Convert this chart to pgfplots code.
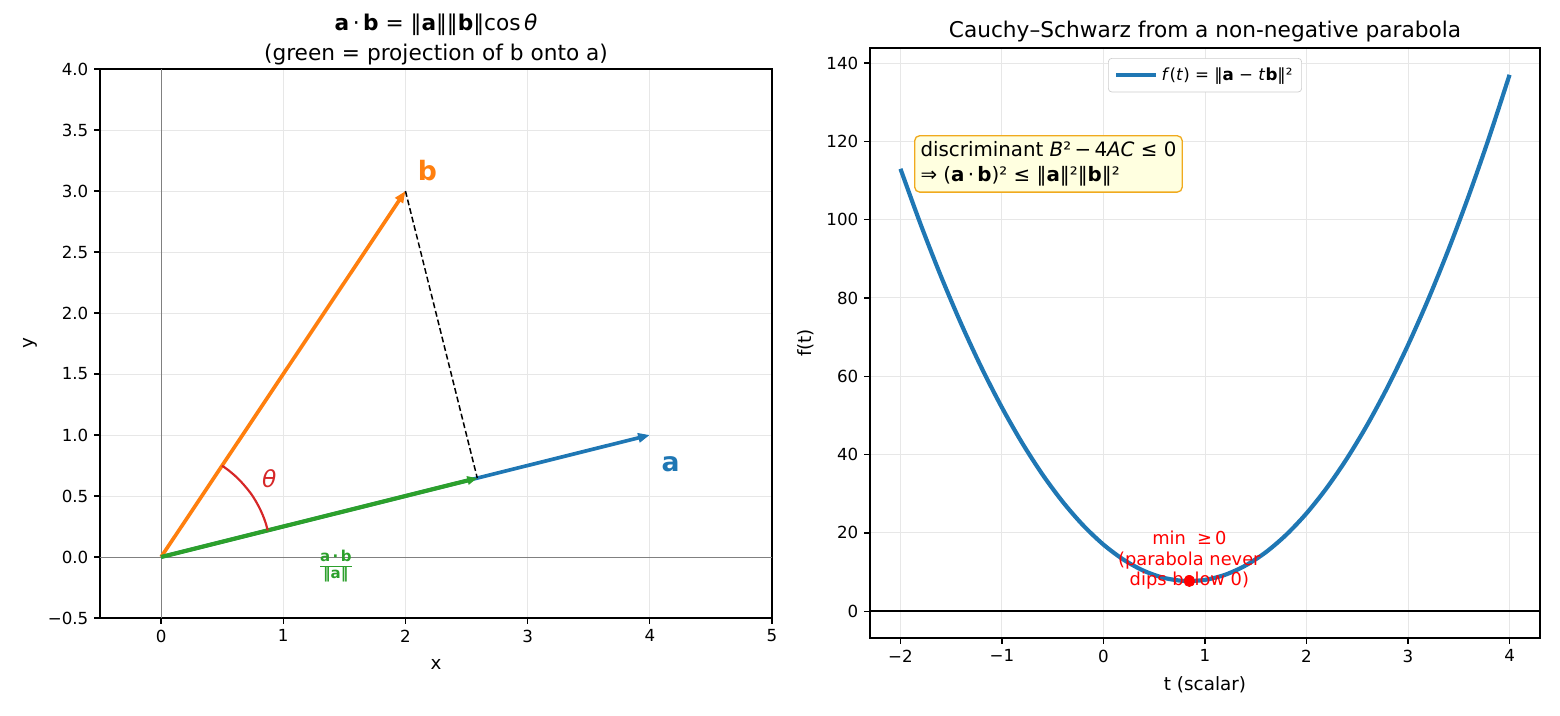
\documentclass[border=0pt]{standalone}
\usepackage{fontspec}
\setmainfont{DejaVu Sans}
\usepackage{pgfplots}
\pgfplotsset{compat=1.18}
\usetikzlibrary{arrows.meta}
\definecolor{C0}{RGB}{31,119,180}
\definecolor{C1}{RGB}{255,127,14}
\definecolor{C2}{RGB}{44,160,44}
\definecolor{C3}{RGB}{214,39,40}
\definecolor{gridc}{RGB}{231,231,231}
\definecolor{boxedge}{RGB}{240,170,30}
\definecolor{boxfill}{RGB}{255,255,224}
\definecolor{legc}{RGB}{204,204,204}
\pgfplotsset{mpl/.style={
  scale only axis,
  axis line style={line width=0.8pt},
  tick align=outside,
  major tick length=3.5pt,
  every tick/.style={black, line width=0.8pt},
  xtick pos=lower, ytick pos=left,
  grid=major,
  grid style={color=gridc, line width=0.6pt},
  tick label style={font=\fontsize{10}{12}\selectfont},
  label style={font=\fontsize{11}{13}\selectfont},
  title style={font=\fontsize{13}{18}\selectfont, align=center, anchor=center},
}}
\begin{document}
\begin{tikzpicture}
\useasboundingbox (0,0) rectangle (936pt,-429pt);
% ---------------- left panel ----------------
\begin{axis}[mpl,
  at={(60pt,-370.8pt)}, anchor=south west,
  width=403.2pt, height=329.4pt,
  xmin=-0.5, xmax=5, ymin=-0.5, ymax=4,
  xtick={0,1,2,3,4,5}, xticklabels={0,1,2,3,4,5},
  ytick={-0.5,0,0.5,1,1.5,2,2.5,3,3.5,4},
  yticklabels={−0.5,0.0,0.5,1.0,1.5,2.0,2.5,3.0,3.5,4.0},
  xlabel={x}, ylabel={y},
  xlabel style={at={(axis description cs:0.5,-0.0838)}, anchor=center},
  ylabel style={at={(axis description cs:-0.1042,0.5)}, anchor=center},
  title={\textbf{a}\,·\,\textbf{b} = ‖\textbf{a}‖‖\textbf{b}‖cos\,\textit{θ}\\(green = projection of b onto a)},
  title style={at={(axis description cs:0.5,1.0353)}},
]
\addplot[black!50, line width=0.6pt, forget plot] coordinates {(-0.5,0) (5,0)};
\addplot[black!50, line width=0.6pt, forget plot] coordinates {(0,-0.5) (0,4)};
\addplot[C1, line width=2.2pt, -{Triangle[length=7pt,width=5.5pt]}] coordinates {(0,0) (2,3)};
\addplot[C0, line width=2.2pt, -{Triangle[length=7pt,width=5.5pt]}] coordinates {(0,0) (4,1)};
\addplot[C2, line width=2.5pt, -{Triangle[length=6pt,width=5pt]}] coordinates {(0,0) (2.588,0.647)};
\addplot[black, line width=0.9pt, dash pattern=on 3.5pt off 1.8pt] coordinates {(2,3) (2.588,0.647)};
\addplot[C3, line width=1.3pt, smooth] coordinates {
 (0.873,0.218) (0.855,0.282) (0.832,0.344) (0.804,0.405) (0.772,0.463)
 (0.736,0.519) (0.695,0.571) (0.651,0.621) (0.604,0.667) (0.553,0.710) (0.499,0.749)};
\node[C3, font=\fontsize{14}{16}\selectfont\itshape] at (axis cs:0.885,0.64) {θ};
\node[C1, font=\fontsize{16}{18}\selectfont\bfseries] at (axis cs:2.18,3.17) {b};
\node[C0, font=\fontsize{16}{18}\selectfont\bfseries] at (axis cs:4.17,0.76) {a};
\node[C2, font=\fontsize{9}{10}\selectfont\bfseries, inner sep=0pt] at (axis cs:1.43,-0.08)
  {\setlength{\tabcolsep}{0pt}\renewcommand{\arraystretch}{0.9}\begin{tabular}{c}a\,·\,b\\\hline‖a‖\end{tabular}};
\end{axis}
% ---------------- right panel ----------------
\begin{axis}[mpl,
  at={(522pt,-382.8pt)}, anchor=south west,
  width=402pt, height=354pt,
  xmin=-2.3, xmax=4.3, ymin=-6.85, ymax=143.85,
  xtick={-2,-1,0,1,2,3,4}, xticklabels={−2,−1,0,1,2,3,4},
  ytick={0,20,40,60,80,100,120,140},
  yticklabels={0,20,40,60,80,100,120,140},
  xlabel={t (scalar)}, ylabel={f(t)},
  xlabel style={at={(axis description cs:0.5,-0.0797)}, anchor=center},
  ylabel style={at={(axis description cs:-0.0955,0.5)}, anchor=center},
  title={Cauchy–Schwarz from a non-negative parabola},
  title style={at={(axis description cs:0.5,1.0102)}},
  legend style={at={(0.5,0.983)}, anchor=north, draw=legc, rounded corners=2pt,
    font=\fontsize{10}{12}\selectfont, inner sep=3.5pt},
  legend cell align=left,
  legend image code/.code={\draw[#1] (0pt,0pt) -- (24pt,0pt);},
]
\addplot[C0, line width=2.5pt, smooth] coordinates {
 (-2,113) (-1.8,98.72) (-1.6,85.48) (-1.4,73.28) (-1.2,62.12) (-1,52)
 (-0.8,42.92) (-0.6,34.88) (-0.4,27.88) (-0.2,21.92) (0,17) (0.2,13.12)
 (0.4,10.28) (0.6,8.48) (0.8,7.72) (1,8) (1.2,9.32) (1.4,11.68) (1.6,15.08)
 (1.8,19.52) (2,25) (2.2,31.52) (2.4,39.08) (2.6,47.68) (2.8,57.32) (3,68)
 (3.2,79.72) (3.4,92.48) (3.6,106.28) (3.8,121.12) (4,137)};
\addlegendentry{\textit{f}(\textit{t}) = ‖\textbf{a} − \textit{t}\textbf{b}‖²}
\addplot[black, line width=0.9pt, forget plot] coordinates {(-2.3,0) (4.3,0)};
\addplot[only marks, mark=*, mark size=3.3pt, red, forget plot] coordinates {(0.846,7.69)};
\node[red, align=center, font=\fontsize{10.7}{12.3}\selectfont] at (axis cs:0.846,13.0)
  {min\ \ ≥\,0\\(parabola never\\dips below 0)};
\node[anchor=north west, draw=boxedge, fill=boxfill, line width=0.8pt, rounded corners=3pt,
  align=left, inner sep=3.5pt, font=\fontsize{11.9}{15}\selectfont]
  at (rel axis cs:0.0657,0.8525)
  {discriminant \textit{B}²\,−\,4\textit{AC} ≤ 0\\⇒ (\textbf{a}\,·\,\textbf{b})² ≤ ‖\textbf{a}‖²‖\textbf{b}‖²};
\end{axis}
\end{tikzpicture}
\end{document}
